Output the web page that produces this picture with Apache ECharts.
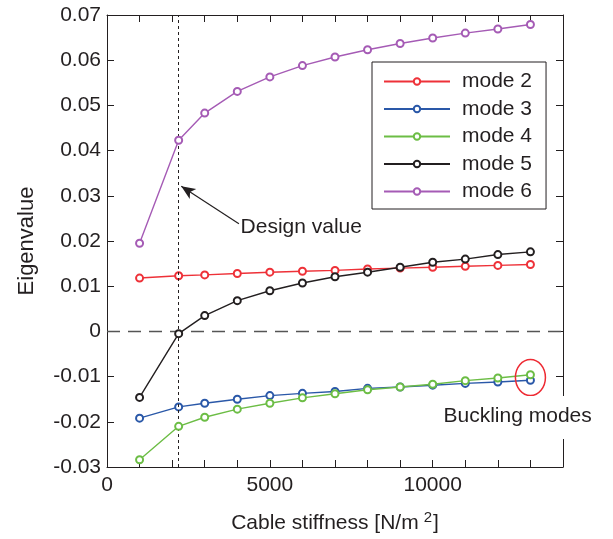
<!DOCTYPE html>
<html><head><meta charset="utf-8">
<script src="https://cdn.jsdelivr.net/npm/echarts@6/dist/echarts.min.js"></script>
<style>html,body{margin:0;padding:0;background:#fff}#chart{width:613px;height:539px}</style>
</head><body><div id="chart"></div>
<script>
// Cable stiffness [N/m^2] at which eigenvalues were computed
const stiffness = [1000, 2200, 3000, 4000, 5000, 6000, 7000, 8000, 9000, 10000, 11000, 12000, 13000];
const mode2 = [0.0118, 0.0123, 0.0125, 0.0128, 0.0131, 0.0133, 0.0135, 0.0138, 0.0140, 0.0142, 0.0144, 0.0146, 0.0148];
const mode3 = [-0.0192, -0.0167, -0.0159, -0.0150, -0.0142, -0.0137, -0.0133, -0.0126, -0.0123, -0.0119, -0.0115, -0.0112, -0.0108];
const mode4 = [-0.0284, -0.0210, -0.0190, -0.0172, -0.0159, -0.0147, -0.0138, -0.0129, -0.0123, -0.0117, -0.0109, -0.0103, -0.0096];
const mode5 = [-0.0146, -0.0005, 0.0035, 0.0068, 0.0090, 0.0107, 0.0121, 0.0131, 0.0142, 0.0153, 0.0160, 0.0170, 0.0176];
const mode6 = [0.0195, 0.0423, 0.0483, 0.0531, 0.0563, 0.0588, 0.0607, 0.0623, 0.0637, 0.0649, 0.0660, 0.0669, 0.0679];
const modeNames = ['mode 2', 'mode 3', 'mode 4', 'mode 5', 'mode 6'];
const designStiffness = 2200;
const xTicks = [0, 5000, 10000];

const FONT = 'Liberation Sans, Arial, Helvetica, sans-serif';
const INK = '#231f20';
const colors = ['#ee3138', '#2a58a8', '#6cbd45', '#231f20', '#a55bb5'];
const values = [mode2, mode3, mode4, mode5, mode6];

const chart = echarts.init(document.getElementById('chart'), null, { renderer: 'canvas' });

const axisLineStyle = { show: true, onZero: false, lineStyle: { color: INK, width: 1 } };
const tickStyle = { show: true, inside: true, length: 7, lineStyle: { color: INK, width: 1 } };

const series = values.map((v, i) => ({
  name: modeNames[i],
  type: 'line',
  data: stiffness.map((x, j) => [x, v[j]]),
  symbol: 'emptyCircle',
  symbolSize: 7,
  showSymbol: true,
  lineStyle: { color: colors[i], width: 1.4 },
  itemStyle: { color: colors[i], borderColor: colors[i], borderWidth: 1.4 },
  z: 3 + i,
  animation: false
}));

// reference lines and the design-value pointer
series.push({
  name: 'guides',
  type: 'line',
  data: [],
  silent: true,
  animation: false,
  markLine: {
    silent: true,
    animation: false,
    symbol: ['none', 'none'],
    label: { show: false },
    data: [
      [{ coord: [0, 0], lineStyle: { color: '#555', width: 1.3, type: [13, 8] } }, { coord: [14000, 0] }],
      [{ coord: [designStiffness, -0.03], lineStyle: { color: INK, width: 1, type: [3, 3] } }, { coord: [designStiffness, 0.07] }],
      [{ coord: [4050, 0.0238], symbol: 'none', lineStyle: { color: INK, width: 1.2, type: 'solid' } },
       { coord: [2280, 0.0321], symbol: 'arrow', symbolSize: [9, 14] }]
    ]
  }
});

chart.setOption({
  backgroundColor: '#fff',
  animation: false,
  textStyle: { fontFamily: FONT },
  grid: { left: 107, right: 50, top: 15, bottom: 69 },
  legend: {
    data: modeNames,
    orient: 'vertical',
    left: 372,
    top: 62,
    backgroundColor: '#fff',
    borderColor: INK,
    borderWidth: 1,
    padding: [9, 14, 7, 11],
    itemWidth: 66,
    itemHeight: 8,
    itemGap: 6.5,
    textStyle: { fontFamily: FONT, fontSize: 21, color: INK, lineHeight: 21, padding: [0, 0, 0, 7] }
  },
  xAxis: [
    {
      type: 'value', min: 0, max: 14000, interval: 1000,
      name: '{a|Cable stiffness [N/m}{s|2}{a|]}',
      nameLocation: 'middle', nameGap: 43,
      nameTextStyle: {
        rich: {
          a: { fontFamily: FONT, fontSize: 21, color: INK },
          s: { fontFamily: FONT, fontSize: 15, color: INK, padding: [0, 1, 12, 5] }
        }
      },
      axisLine: axisLineStyle, axisTick: tickStyle, splitLine: { show: false },
      axisLabel: {
        margin: 8, fontFamily: FONT, fontSize: 21, color: INK,
        formatter: v => (xTicks.indexOf(v) >= 0 ? String(v) : '')
      }
    },
    {
      type: 'value', position: 'top', min: 0, max: 14000, interval: 1000,
      axisLine: axisLineStyle, axisTick: tickStyle, splitLine: { show: false },
      axisLabel: { show: false }
    }
  ],
  yAxis: [
    {
      type: 'value', min: -0.03, max: 0.07, interval: 0.01,
      name: 'Eigenvalue', nameLocation: 'middle', nameGap: 69, nameRotate: 90,
      nameTextStyle: { fontFamily: FONT, fontSize: 22, color: INK },
      axisLine: axisLineStyle, axisTick: tickStyle, splitLine: { show: false },
      axisLabel: {
        margin: 6, fontFamily: FONT, fontSize: 21, color: INK,
        formatter: v => { const r = Math.round(v * 100) / 100; return r === 0 ? '0' : r.toFixed(2); }
      }
    },
    {
      type: 'value', position: 'right', min: -0.03, max: 0.07, interval: 0.01,
      axisLine: axisLineStyle, axisTick: tickStyle, splitLine: { show: false },
      axisLabel: { show: false }
    }
  ],
  series: series
});

// annotations placed from data coordinates
const designLabelAt = chart.convertToPixel({ gridIndex: 0 }, [4100, 0.0227]);
const ringAt = chart.convertToPixel({ gridIndex: 0 }, [stiffness[stiffness.length - 1], (mode3[12] + mode4[12]) / 2]);
const bucklingAt = chart.convertToPixel({ gridIndex: 0 }, [10270, -0.0187]);

chart.setOption({
  graphic: [
    {
      type: 'text', left: designLabelAt[0], top: designLabelAt[1] - 12, z: 20,
      style: { text: 'Design value', fontFamily: FONT, fontSize: 21, fill: INK }
    },
    {
      type: 'ellipse', z: 20,
      shape: { cx: ringAt[0], cy: ringAt[1], rx: 15, ry: 18 },
      style: { fill: 'none', stroke: '#ee2a33', lineWidth: 1.5 }
    },
    {
      type: 'text', left: bucklingAt[0], top: bucklingAt[1] - 20, z: 20,
      style: {
        text: 'Buckling modes', fontFamily: FONT, fontSize: 21, fill: INK,
        backgroundColor: '#fff', padding: [10, 2, 12, 2]
      }
    }
  ]
});
</script>
</body></html>
